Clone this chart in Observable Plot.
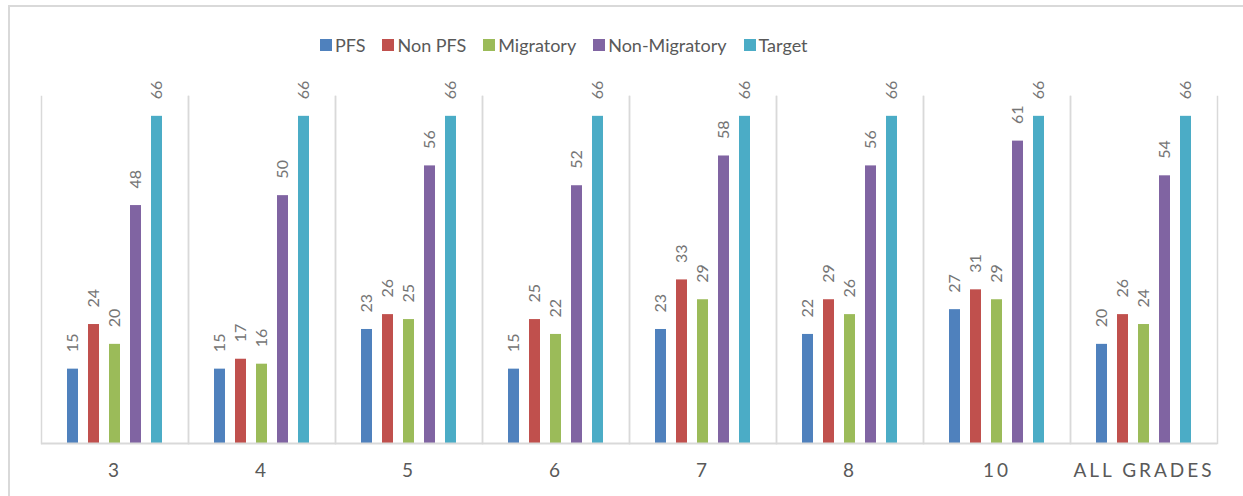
<!DOCTYPE html>
<html>
<head>
<meta charset="utf-8">
<script src="https://cdn.jsdelivr.net/npm/d3@7"></script>
<script src="https://cdn.jsdelivr.net/npm/@observablehq/plot@0.6"></script>
<style>
  html, body { margin: 0; padding: 0; background: #fff; }
  body { width: 1243px; height: 496px; overflow: hidden; position: relative; font-family: Lato, "Open Sans", sans-serif; }
  #border { position: absolute; left: 8px; top: 5px; width: 1300px; height: 600px;
            border-top: 2px solid #d9d9d9; border-left: 2px solid #d9d9d9; pointer-events: none; }
  #legend { position: relative; height: 60px; color: #595959; font-size: 18px; }
  #legend .row { position: absolute; left: 320px; top: 34px; display: flex; align-items: center; height: 22px; }
  .item { display: flex; align-items: center; margin-right: 17px; line-height: 22px; }
  .sw { width: 12px; height: 12px; margin-right: 3px; }
  #chart { position: relative; }
</style>
</head>
<body>
<div id="border"></div>
<div id="legend"><div class="row"></div></div>
<div id="chart"></div>
<script>
const grades = ["3", "4", "5", "6", "7", "8", "10", "ALL GRADES"];
const series = ["PFS", "Non PFS", "Migratory", "Non-Migratory", "Target"];
const colors = ["#4F81BD", "#C0504D", "#9BBB59", "#8064A2", "#4BACC6"];
const pfs          = [15, 15, 23, 15, 23, 22, 27, 20];
const nonPfs       = [24, 17, 26, 25, 33, 29, 31, 26];
const migratory    = [20, 16, 25, 22, 29, 26, 29, 24];
const nonMigratory = [48, 50, 56, 52, 58, 56, 61, 54];
const target       = [66, 66, 66, 66, 66, 66, 66, 66];

const seriesValues = [pfs, nonPfs, migratory, nonMigratory, target];
const data = [];
grades.forEach((g, i) => {
  series.forEach((s, j) => data.push({grade: g, series: s, value: seriesValues[j][i]}));
});

// Legend
const row = document.querySelector("#legend .row");
series.forEach((s, j) => {
  const it = document.createElement("div");
  it.className = "item";
  const sw = document.createElement("div");
  sw.className = "sw";
  sw.style.background = colors[j];
  const tx = document.createElement("span");
  tx.textContent = s;
  it.appendChild(sw); it.appendChild(tx);
  row.appendChild(it);
});

const chart = Plot.plot({
  width: 1243,
  height: 436,
  marginLeft: 38,
  marginRight: 23,
  marginTop: 36,
  marginBottom: 53,
  style: {fontFamily: "Lato, 'Open Sans', sans-serif", color: "#595959", background: "transparent"},
  fx: {domain: grades, padding: 0, label: null},
  x: {domain: series, paddingInner: 0.49, paddingOuter: 1.15, axis: null},
  y: {domain: [0, 70], axis: null},
  color: {domain: series, range: colors},
  marks: [
    Plot.frame({anchor: "left", stroke: "#d9d9d9", strokeWidth: 1.5}),
    Plot.frame({anchor: "right", stroke: "#d9d9d9", strokeWidth: 1.5}),
    Plot.barY(data, {fx: "grade", x: "series", y: "value", fill: "series"}),
    Plot.ruleY([0], {stroke: "#d9d9d9", strokeWidth: 2}),
    Plot.text(data, {fx: "grade", x: "series", y: "value", text: d => String(d.value),
      rotate: -90, textAnchor: "start", lineAnchor: "middle", dy: -17,
      fontSize: 16, fill: "#757575"}),
    Plot.axisFx({anchor: "bottom", tickSize: 0, tickPadding: 20, fontSize: 19, label: null,
      fill: "#595959"})
  ]
});
document.getElementById("chart").appendChild(chart);
// letter spacing for category labels
chart.querySelectorAll("g[aria-label='fx-axis tick label'] text").forEach(t => {
  t.style.letterSpacing = "3px";
});
</script>
</body>
</html>
